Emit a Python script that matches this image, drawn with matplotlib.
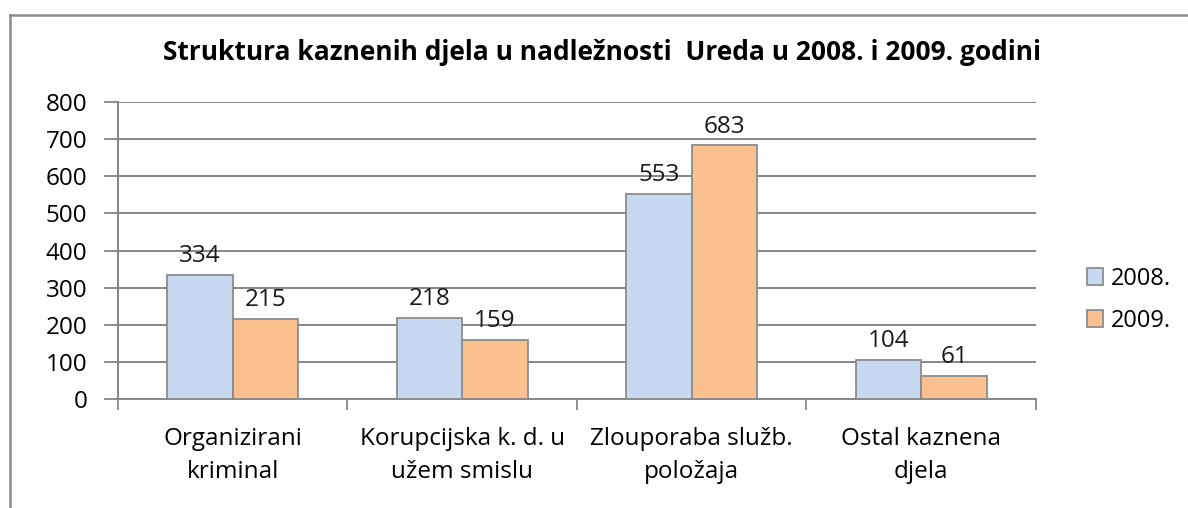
import numpy as np
import matplotlib.pyplot as plt
from matplotlib.lines import Line2D

categories = ['Organizirani\nkriminal', 'Korupcijska k. d. u\nužem smislu',
              'Zlouporaba služb.\npoložaja', 'Ostal kaznena\ndjela']
vals_2008 = [334, 218, 553, 104]
vals_2009 = [215, 159, 683, 61]
series = ['2008.', '2009.']
yticks = [0, 100, 200, 300, 400, 500, 600, 700, 800]

plt.rcParams['font.family'] = ['Open Sans', 'DejaVu Sans']

fig = plt.figure(figsize=(11.88, 5.08), dpi=100)
ax = fig.add_axes([0.0993, 0.2146, 0.7727, 0.5845])

x = np.arange(len(categories))
w = 0.286
grey = '#868686'
b1 = ax.bar(x - w/2, vals_2008, w, color='#c6d9f1', edgecolor='#8c8c8c', linewidth=1.3, label=series[0], zorder=3)
b2 = ax.bar(x + w/2, vals_2009, w, color='#fac090', edgecolor='#8c8c8c', linewidth=1.3, label=series[1], zorder=3)

for bars in (b1, b2):
    for r in bars:
        ax.annotate(str(int(r.get_height())), (r.get_x() + r.get_width()/2, r.get_height()),
                    xytext=(0, 5), textcoords='offset points', ha='center', va='bottom',
                    fontsize=17.5, color='#1a1a1a', zorder=4)

ax.set_xlim(-0.5, len(categories) - 0.5)
ax.set_ylim(0, 800)
ax.set_yticks(yticks)
ax.set_yticklabels([str(v) for v in yticks], fontsize=17.5)
ax.yaxis.grid(True, color=grey, linewidth=1.4, zorder=0)
ax.tick_params(axis='y', length=10, width=1.3, color=grey, pad=12)

ax.set_xticks(x)
ax.set_xticklabels(categories, fontsize=17.5, linespacing=1.5)
ax.set_xticks(np.arange(len(categories) + 1) - 0.5, minor=True)
ax.tick_params(axis='x', which='major', length=0, pad=20)
ax.tick_params(axis='x', which='minor', length=8, width=1.3, color=grey)

for s in ['top', 'right']:
    ax.spines[s].set_visible(False)
for s in ['left', 'bottom']:
    ax.spines[s].set_color(grey)
    ax.spines[s].set_linewidth(1.4)

fig.text(0.507, 0.897, 'Struktura kaznenih djela u nadležnosti  Ureda u 2008. i 2009. godini',
         ha='center', va='center', fontsize=19, fontweight='bold')

ax.legend(loc='center left', bbox_to_anchor=(0.897, 0.41), bbox_transform=fig.transFigure,
          frameon=False, fontsize=17, handlelength=0.7, handleheight=0.7,
          handletextpad=0.3, labelspacing=0.75)

# outer chart frame (left and top edges visible)
fig.add_artist(Line2D([0.0085, 0.0085], [0, 0.97], transform=fig.transFigure, color='#8c8c8c', linewidth=1.8))
fig.add_artist(Line2D([0.0085, 1.0], [0.97, 0.97], transform=fig.transFigure, color='#8c8c8c', linewidth=1.8))

fig.savefig('out.png', dpi=100)
